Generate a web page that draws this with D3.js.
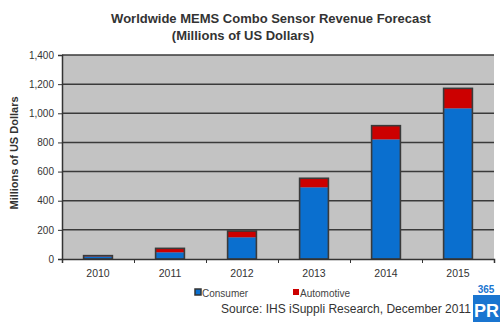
<!DOCTYPE html>
<html>
<head>
<meta charset="utf-8">
<script src="https://cdn.jsdelivr.net/npm/d3@7"></script>
<style>
  body { margin: 0; background: #fff; }
  svg { font-family: "Liberation Sans", Arial, sans-serif; }
</style>
</head>
<body>
<script>
const years = ["2010", "2011", "2012", "2013", "2014", "2015"];
const consumer = [18, 46, 149, 492, 821, 1034];
const automotive = [5, 27, 43, 62, 94, 137];
const seriesNames = ["Consumer", "Automotive"];
const yTicks = [0, 200, 400, 600, 800, 1000, 1200, 1400];

let width = 500, height = 322,
    margin = {left: 62, right: 6, top: 55, bottom: 63},
    plotW = width - margin.left - margin.right,
    plotH = height - margin.top - margin.bottom;

let svg = d3.select("body").append("svg")
    .attr("width", width)
    .attr("height", height);

svg.append("text")
    .attr("x", 271).attr("y", 23)
    .attr("text-anchor", "middle")
    .style("font-size", "13px").style("font-weight", "bold").style("fill", "#333")
    .text("Worldwide MEMS Combo Sensor Revenue Forecast");
svg.append("text")
    .attr("x", 243).attr("y", 40)
    .attr("text-anchor", "middle")
    .style("font-size", "13px").style("font-weight", "bold").style("fill", "#333")
    .text("(Millions of US Dollars)");

let x = d3.scaleBand().domain(years).range([0, plotW]).paddingInner(0.6).paddingOuter(0.3);
let xEdge = d3.scaleLinear().domain([0, years.length]).range([0, plotW]);
let y = d3.scaleLinear().domain([0, 1400]).range([plotH, 0]);

let g = svg.append("g").attr("transform", "translate(" + margin.left + "," + margin.top + ")");

g.append("rect")
    .attr("width", plotW).attr("height", plotH)
    .attr("fill", "#c3c3c3");

g.append("g").selectAll("line")
    .data(yTicks.slice(1))
    .enter().append("line")
    .attr("x1", 0).attr("x2", plotW)
    .attr("y1", d => y(d)).attr("y2", d => y(d))
    .attr("stroke", "#3a3a3a").attr("stroke-width", 1.5);

let stacked = years.map((yr, i) => ({year: yr, c: consumer[i], a: automotive[i]}));

let bars = g.append("g").selectAll("g").data(stacked).enter().append("g");
bars.append("rect")
    .attr("x", d => x(d.year)).attr("width", x.bandwidth())
    .attr("y", d => y(d.c)).attr("height", d => y(0) - y(d.c))
    .attr("fill", "#0a6fcf");
bars.append("rect")
    .attr("x", d => x(d.year)).attr("width", x.bandwidth())
    .attr("y", d => y(d.c + d.a)).attr("height", d => y(d.c) - y(d.c + d.a))
    .attr("fill", "#cc0000");
bars.append("rect")
    .attr("x", d => x(d.year)).attr("width", x.bandwidth())
    .attr("y", d => y(d.c + d.a)).attr("height", d => y(0) - y(d.c + d.a))
    .attr("fill", "none").attr("stroke", "#3a3a3a").attr("stroke-width", 1.6);

let yAxis = d3.axisLeft(y).tickValues(yTicks).tickSize(4).tickFormat(d3.format(","));
let ya = g.append("g").call(yAxis);
ya.select(".domain").attr("stroke", "#333").attr("stroke-width", 1.5);
ya.selectAll("line").attr("stroke", "#333");
ya.selectAll("text").style("font-size", "10px").style("fill", "#333").attr("x", -8);

let xAxis = d3.axisBottom(xEdge).tickValues(d3.range(years.length + 1)).tickSize(4).tickFormat("");
let xa = g.append("g").attr("transform", "translate(0," + plotH + ")").call(xAxis);
xa.select(".domain").attr("stroke", "#333").attr("stroke-width", 1.5);
xa.selectAll("line").attr("stroke", "#333");

g.append("g").selectAll("text").data(years).enter().append("text")
    .attr("x", d => x(d) + x.bandwidth() / 2)
    .attr("y", plotH + 18)
    .attr("text-anchor", "middle")
    .style("font-size", "10.5px").style("fill", "#333")
    .text(d => d);

svg.append("text")
    .attr("transform", "translate(18," + (margin.top + plotH / 2 - 4) + ") rotate(-90)")
    .attr("text-anchor", "middle")
    .style("font-size", "11px").style("font-weight", "bold").style("fill", "#333")
    .text("Millions of US Dollars");

// legend
let legendX = [195, 293], legendColors = ["#0a6fcf", "#cc0000"];
let lg = svg.append("g").selectAll("g").data(seriesNames).enter().append("g")
    .attr("transform", (d, i) => "translate(" + legendX[i] + ",289)");
lg.append("rect").attr("width", 6).attr("height", 6).attr("y", 0)
    .attr("fill", (d, i) => legendColors[i])
    .attr("stroke", (d, i) => i == 0 ? "#333" : "none").attr("stroke-width", 1.5);
lg.append("text").attr("x", 7).attr("y", 7.5)
    .style("font-size", "10px").style("fill", "#444")
    .text(d => d);

svg.append("text")
    .attr("x", 221).attr("y", 313)
    .style("font-size", "12px").style("fill", "#333")
    .text("Source: IHS iSuppli Research, December 2011");

// logo
svg.append("text").attr("x", 486).attr("y", 293).attr("text-anchor", "middle")
    .style("font-size", "10px").style("font-weight", "bold").style("fill", "#1a75d0")
    .text("365");
svg.append("rect").attr("x", 473).attr("y", 295).attr("width", 27).attr("height", 27).attr("fill", "#1a75d0");
svg.append("text").attr("x", 486.5).attr("y", 317).attr("text-anchor", "middle")
    .style("font-size", "18px").style("font-weight", "bold").style("fill", "#fff")
    .text("PR");
</script>
</body>
</html>
